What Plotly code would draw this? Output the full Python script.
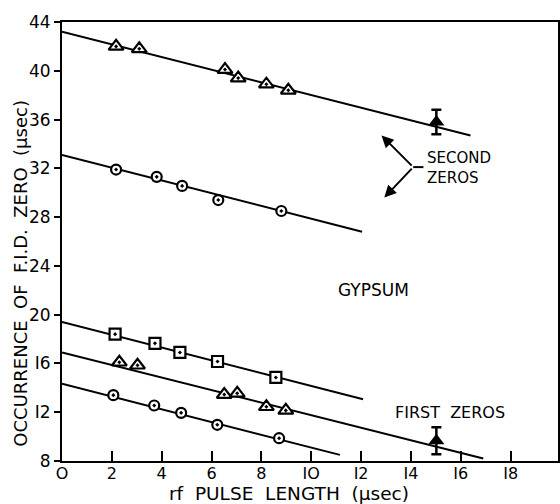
import plotly.graph_objects as go

# Second zeros
sec_tri_x = [2.17, 3.1, 6.54, 7.07, 8.2, 9.08]
sec_tri_y = [42.0, 41.8, 40.1, 39.4, 38.9, 38.4]
sec_tri_err_x = [15.02]
sec_tri_err_y = [35.8]
sec_tri_err = [1.0]
sec_cir_x = [2.17, 3.8, 4.82, 6.27, 8.8]
sec_cir_y = [31.9, 31.3, 30.56, 29.4, 28.5]

# First zeros
fir_sq_x = [2.13, 3.73, 4.73, 6.24, 8.58]
fir_sq_y = [18.4, 17.65, 16.9, 16.16, 14.85]
fir_tri_x = [2.3, 3.03, 6.51, 7.03, 8.2, 8.98]
fir_tri_y = [16.1, 15.85, 13.45, 13.55, 12.45, 12.15]
fir_tri_err_x = [15.02]
fir_tri_err_y = [9.66]
fir_tri_err = [1.1]
fir_cir_x = [2.06, 3.7, 4.78, 6.23, 8.71]
fir_cir_y = [13.4, 12.55, 11.95, 10.97, 9.87]

# Fitted lines (start, end)
fit_lines = {
    "sec_tri": ([0, 16.39], [43.2, 34.7]),
    "sec_cir": ([0, 12.04], [33.1, 26.8]),
    "fir_sq": ([0, 12.08], [19.4, 13.06]),
    "fir_tri": ([0, 16.9], [16.9, 8.2]),
    "fir_cir": ([0, 11.15], [14.33, 8.5]),
}

x_ticks = [0, 2, 4, 6, 8, 10, 12, 14, 16, 18]
x_tick_labels = ["O", "2", "4", "6", "8", "IO", "I2", "I4", "I6", "I8"]
y_ticks = [8, 12, 16, 20, 24, 28, 32, 36, 40, 44]
y_tick_labels = ["8", "I2", "I6", "20", "24", "28", "32", "36", "40", "44"]

FONT = "DejaVu Sans"
fig = go.Figure()

for name, (lx, ly) in fit_lines.items():
    fig.add_trace(go.Scatter(x=lx, y=ly, mode="lines",
                             line=dict(color="black", width=2), showlegend=False))

def markers(x, y, symbol, size):
    fig.add_trace(go.Scatter(x=x, y=y, mode="markers", showlegend=False,
                             marker=dict(symbol=symbol, size=size, color="white",
                                         line=dict(color="black", width=2.2))))

markers(sec_tri_x, sec_tri_y, "triangle-up-dot", 13)
markers(sec_cir_x, sec_cir_y, "circle-dot", 10)
markers(fir_sq_x, fir_sq_y, "square-dot", 11)
markers(fir_tri_x, fir_tri_y, "triangle-up-dot", 13)
markers(fir_cir_x, fir_cir_y, "circle-dot", 10)

for ex, ey, ee in [(sec_tri_err_x, sec_tri_err_y, sec_tri_err),
                   (fir_tri_err_x, fir_tri_err_y, fir_tri_err)]:
    fig.add_trace(go.Scatter(x=ex, y=ey, mode="markers", showlegend=False,
                             error_y=dict(type="data", array=ee, color="black",
                                          thickness=2.5, width=5),
                             marker=dict(symbol="triangle-up", size=14, color="black")))

fig.add_annotation(x=12.48, y=22.0, text="GYPSUM", showarrow=False,
                   font=dict(family=FONT, size=17, color="black"))
fig.add_annotation(x=15.55, y=12.0, text="FIRST  ZEROS", showarrow=False,
                   font=dict(family=FONT, size=16, color="black"))
fig.add_annotation(x=14.55, y=32.0, text="SECOND<br>ZEROS", showarrow=False,
                   font=dict(family=FONT, size=15, color="black"),
                   xanchor="left", align="left")
for tx, ty in [(12.82, 34.7), (12.93, 29.6)]:
    fig.add_annotation(x=tx, y=ty, ax=14.09, ay=32.1, axref="x", ayref="y",
                       xref="x", yref="y", showarrow=True, arrowhead=2,
                       arrowsize=1.2, arrowwidth=2, arrowcolor="black", text="")
fig.add_shape(type="line", x0=14.09, y0=32.1, x1=14.5, y1=32.1,
              line=dict(color="black", width=2))

# axis titles
fig.add_annotation(xref="paper", yref="paper", x=0.4567, y=-0.0745,
                   xanchor="center", yanchor="middle",
                   text="rf  PULSE  LENGTH  (μsec)", showarrow=False,
                   font=dict(family=FONT, size=18.5, color="black"))
fig.add_annotation(xref="paper", yref="paper", x=-0.0827, y=0.429, textangle=-90,
                   xanchor="center", yanchor="middle",
                   text="OCCURRENCE  OF  F.I.D.  ZERO  (μsec)", showarrow=False,
                   font=dict(family=FONT, size=18, color="black"))

fig.update_layout(
    width=560, height=504, autosize=False,
    margin=dict(l=62, r=2, t=22, b=43),
    plot_bgcolor="white", paper_bgcolor="white",
    font=dict(family=FONT, size=17, color="black"),
    xaxis=dict(range=[0, 19.9], tickvals=x_ticks, ticktext=x_tick_labels,
               ticks="inside", ticklen=10, tickwidth=2, tickcolor="black",
               showline=True, linecolor="black", linewidth=2, mirror=True,
               showgrid=False, zeroline=False, automargin=False,
               ticklabelstandoff=-3,
               tickfont=dict(family=FONT, size=16)),
    yaxis=dict(range=[8, 44], tickvals=y_ticks, ticktext=y_tick_labels,
               ticks="outside", ticklen=6, tickwidth=2, tickcolor="black",
               showline=True, linecolor="black", linewidth=2, mirror=True,
               showgrid=False, zeroline=False, automargin=False,
               tickfont=dict(family=FONT, size=17)),
)

post = ("document.body.style.margin='0';document.body.style.overflow='hidden';"
        "Plotly.relayout('{plot_id}', {width:560, height:504});")
fig.write_html("out.html", config={"responsive": False, "displayModeBar": False},
               post_script=post)
